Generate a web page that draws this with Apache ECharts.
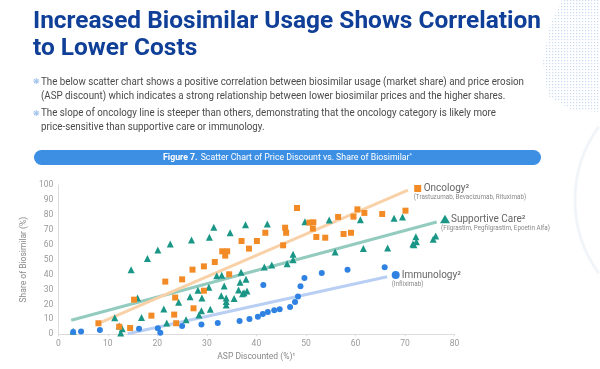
<!DOCTYPE html>
<html><head><meta charset="utf-8">
<script src="https://cdn.jsdelivr.net/npm/echarts/dist/echarts.min.js"></script>
<style>html,body{margin:0;padding:0;background:#fff}#c{width:600px;height:369px}</style>
</head><body><div id="c"></div><script>
// ---- data ----
const xTicks = [0, 10, 20, 30, 40, 50, 60, 70, 80];
const yTicks = [0, 10, 20, 30, 40, 50, 60, 70, 80, 90, 100];

const oncX = [8.1,12.3,14.5,15.3,18.8,21.6,23.6,23.4,23.8,25,27.1,27.3,29.4,29.4,31.6,33.1,34.1,33.7,34.5,37,38.5,40.1,41.8,45.4,45.8,46,48.2,50.7,51.5,51.4,52.1,53.9,56.5,57.6,59.1,59.6,60.4,61.8,65.4,70.1];
const oncY = [7.4,5.1,4.2,23.2,12.5,35.3,24.6,13.2,7.4,36.8,43.3,17.4,45.5,29.2,48.4,55.6,55.6,52.7,40.2,62.5,57.4,62.5,68,59.6,71.4,68,84.6,74.8,75,70.8,65.2,64.7,78.6,67.2,68,78.8,83.7,81.3,80.6,82.8];

const supX = [3,11.4,12.3,12.9,12.6,14.7,16,16.8,18,20.1,21.3,21.9,22.6,24.3,25.8,26.6,26.9,28.2,28.4,28.9,29,30.4,30.7,30.5,31.4,32,33,32.9,33.5,33.9,33.9,33.9,34.7,35.5,36.4,36.7,36.9,37.2,37.5,37.8,37.9,38.1,41.6,42.2,43.1,46.2,47.4,47.4,49.8,54.7,55.9,61,61.6,66.5,67.8,69.5,71.6,71.8,72.2,72.3,75.7,76.2];
const supY = [2,11.1,5.6,3.8,0.9,43.3,24.3,11.2,50.7,56.5,17,7.5,60.5,21.4,9.8,25.2,63.2,29.5,13,15.8,24.3,31.5,16.7,65,71.7,39.3,39.5,25.9,32.4,24.3,21.9,19.6,68,23.9,29.7,34.8,41.5,27.2,27.8,73.4,36.8,29,45,73.9,46.4,47.3,53.6,50,75.4,76.6,55.1,76.8,57.4,57.8,77.7,78.6,60.5,60,65.4,62,63.6,65.8];

const immX = [3,4.6,8.4,16.3,20.1,20.6,25,28.9,32.2,36.6,38.6,40.3,41.3,41.4,42.3,43.6,44.7,46.8,47.8,48.4,48.9,49.7,53.2,58.4,65.9];
const immY = [1.6,1.8,2.8,3.8,4.1,1.1,5.6,6.5,7.6,8.9,10.3,11.8,13.6,33,15,16.1,16.7,18.3,21.7,25.4,32.1,37.7,41.1,43.3,44.9];

const oncTrendX = [8, 70.6], oncTrendY = [7.2, 96.5];
const supTrendX = [2.6, 76.4], supTrendY = [9.4, 75.2];
const immTrendX = [14, 66.4], immTrendY = [0.4, 38.6];

const titleLines = ['Increased Biosimilar Usage Shows Correlation', 'to Lower Costs'];
const bulletLines = [
  'The below scatter chart shows a positive correlation between biosimilar usage (market share) and price erosion',
  '(ASP discount) which indicates a strong relationship between lower biosimilar prices and the higher shares.',
  'The slope of oncology line is steeper than others, demonstrating that the oncology category is likely more',
  'price-sensitive than supportive care or immunology.'
];
const legendNames = ['Oncology²', 'Supportive Care²', 'Immunology²'];
const legendSubs = ['(Trastuzumab, Bevacizumab, Rituximab)', '(Filgrastim, Pegfilgrastim, Epoetin Alfa)', '(Infliximab)'];

// ---- helpers ----
const zip = (a, b) => a.map((v, i) => [v, b[i]]);
const mctx = document.createElement('canvas').getContext('2d');
function tw(text, size, weight, family) { mctx.font = weight + ' ' + size + 'px ' + family; return mctx.measureText(text).width; }

const ORANGE = '#f28b26', TEAL = '#1a9686', BLUE = '#2f82e2';
const FONT = 'Roboto';

const tScale = 508 / tw(titleLines[0], 24, 'bold', FONT);
const bScale = 483 / tw(bulletLines[0], 10.5, 'normal', FONT);

// dot pattern
const pc = document.createElement('canvas'); pc.width = 3; pc.height = 3;
const pctx = pc.getContext('2d'); pctx.fillStyle = '#b9d2ee'; pctx.fillRect(0, 0, 1.2, 1.2);

const graphics = [
  { type: 'polygon', silent: true, z: 0, shape: { points: [[562,0],[600,0],[600,112],[572,110],[548,96],[543,62],[550,25]] }, style: { fill: { image: pc, repeat: 'repeat' }, opacity: 0.8 } },
  { type: 'arc', silent: true, shape: { cx: 700, cy: 200, r: 125, startAngle: Math.PI*0.8, endAngle: Math.PI*1.2 }, style: { stroke: '#f1f5f9', lineWidth: 3, fill: null } },
  { type: 'text', x: 33, y: 21.5, scaleX: tScale, style: { text: titleLines[0], fontSize: 24, fontWeight: 'bold', fontFamily: FONT, fill: '#103f98', verticalAlign: 'middle' } },
  { type: 'text', x: 33, y: 49, scaleX: tScale, style: { text: titleLines[1], fontSize: 24, fontWeight: 'bold', fontFamily: FONT, fill: '#103f98', verticalAlign: 'middle' } },
  { type: 'text', x: 33, y: 82, style: { text: '❋', fontSize: 8, fontFamily: 'DejaVu Sans', fill: '#8db6e6', verticalAlign: 'middle' } },
  { type: 'text', x: 33, y: 113.5, style: { text: '❋', fontSize: 8, fontFamily: 'DejaVu Sans', fill: '#8db6e6', verticalAlign: 'middle' } },
  { type: 'rect', shape: { x: 34, y: 150, width: 507, height: 15, r: 7.5 }, style: { fill: '#3d8fe4' } },
  { type: 'text', x: 287.5, y: 157.5, scaleX: 0.92, style: { text: '{b|Figure 7.} {r|Scatter Chart of Price Discount vs. Share of Biosimilar}{s|*}', align: 'center', verticalAlign: 'middle',
      rich: { b: { fontSize: 9.5, fontWeight: 'bold', fontFamily: FONT, fill: '#fff' }, r: { fontSize: 9.5, fontFamily: FONT, fill: '#fff' }, s: { fontSize: 6, fontFamily: FONT, fill: '#fff', padding: [0,0,5,0] } } } }
];
const bulletY = [82, 96, 113.5, 127.5];
bulletLines.forEach((t, i) => graphics.push({ type: 'text', x: 41, y: bulletY[i], scaleX: bScale, style: { text: t, fontSize: 10.5, fontFamily: FONT, fill: '#4a4a4a', verticalAlign: 'middle' } }));

// legend
const legPos = [[417.7, 188.5, 'rect', ORANGE], [445, 219.3, 'triangle', TEAL], [395.7, 275, 'circle', BLUE]];
legPos.forEach((p, i) => {
  const [x, y, sym, col] = p;
  if (sym === 'rect') graphics.push({ type: 'rect', shape: { x: x - 3.5, y: y - 3.5, width: 7, height: 7 }, style: { fill: col } });
  if (sym === 'triangle') graphics.push({ type: 'polygon', shape: { points: [[x, y - 4.5], [x + 5, y + 4], [x - 5, y + 4]] }, style: { fill: col } });
  if (sym === 'circle') graphics.push({ type: 'circle', shape: { cx: x, cy: y, r: 4 }, style: { fill: col } });
  graphics.push({ type: 'text', x: x + 6, y: y, style: { text: legendNames[i], fontSize: 10, fontFamily: FONT, fill: '#666', verticalAlign: 'middle' } });
  graphics.push({ type: 'text', x: x - 4, y: y + 9, style: { text: legendSubs[i], fontSize: 6.3, fontFamily: FONT, fill: '#888', verticalAlign: 'middle' } });
});

const chart = echarts.init(document.getElementById('c'), null, { renderer: 'canvas' });
chart.setOption({
  backgroundColor: '#fff',
  animation: false,
  textStyle: { fontFamily: FONT },
  grid: { left: 58.3, right: 145.5, top: 185, bottom: 34.7 },
  xAxis: {
    type: 'value', min: xTicks[0], max: xTicks[xTicks.length - 1], interval: 10,
    name: 'ASP Discounted (%)¹', nameLocation: 'middle', nameGap: 18,
    nameTextStyle: { color: '#888', fontSize: 8.5 },
    axisLine: { lineStyle: { color: '#dcdcdc' } }, axisTick: { show: true, length: 2, lineStyle: { color: '#dcdcdc' } },
    axisLabel: { color: '#999', fontSize: 8.5, margin: 5 }, splitLine: { show: false }
  },
  yAxis: {
    type: 'value', min: yTicks[0], max: yTicks[yTicks.length - 1], interval: 10,
    name: 'Share of Biosimilar (%)', nameLocation: 'middle', nameGap: 17, nameRotate: 90,
    nameTextStyle: { color: '#888', fontSize: 8.5 },
    axisLine: { show: true, lineStyle: { color: '#dcdcdc' } }, axisTick: { show: false },
    axisLabel: { color: '#999', fontSize: 8.5, margin: 5 }, splitLine: { show: false }
  },
  series: [
    { type: 'line', data: zip(supTrendX, supTrendY), symbol: 'none', z: 1, lineStyle: { color: '#93cbbf', width: 3 }, silent: true },
    { type: 'line', data: zip(oncTrendX, oncTrendY), symbol: 'none', z: 1, lineStyle: { color: '#f9d1a8', width: 3 }, silent: true },
    { type: 'line', data: zip(immTrendX, immTrendY), symbol: 'none', z: 1, lineStyle: { color: '#b8cff3', width: 3 }, silent: true },
    { type: 'scatter', name: 'Supportive Care', data: zip(supX, supY), symbol: 'triangle', symbolSize: 7, itemStyle: { color: TEAL, opacity: 1 }, z: 3 },
    { type: 'scatter', name: 'Oncology', data: zip(oncX, oncY), symbol: 'rect', symbolSize: 6, itemStyle: { color: ORANGE, opacity: 1 }, z: 4 },
    { type: 'scatter', name: 'Immunology', data: zip(immX, immY), symbol: 'circle', symbolSize: 6, itemStyle: { color: BLUE, opacity: 1 }, z: 3 }
  ],
  graphic: graphics
});
</script></body></html>
